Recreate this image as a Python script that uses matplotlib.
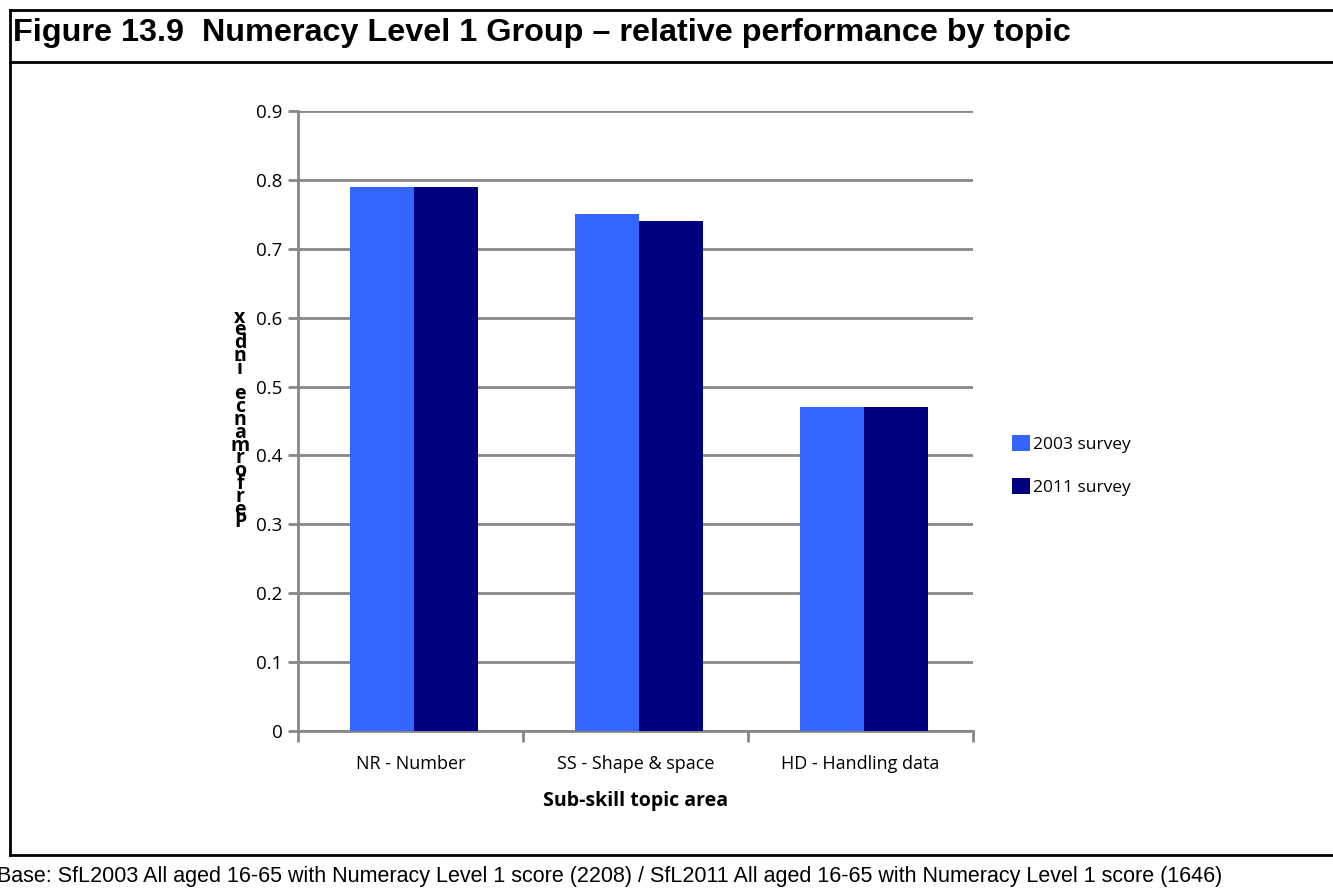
import matplotlib.pyplot as plt
import numpy as np
from matplotlib.lines import Line2D

# Sub-skill topic areas and relative performance for each survey year
topics = ['NR - Number', 'SS - Shape & space', 'HD - Handling data']
perf_2003 = [0.79, 0.75, 0.47]
perf_2011 = [0.79, 0.74, 0.47]
series_names = ['2003 survey', '2011 survey']
series_colors = ['#3366FF', '#000080']
yticks = [0, 0.1, 0.2, 0.3, 0.4, 0.5, 0.6, 0.7, 0.8, 0.9]

W, H = 1333, 888
fig = plt.figure(figsize=(W / 100, H / 100), dpi=100)

# outer frame of the figure panel (pixel coords -> figure fraction)
def fx(px):
    return px / W

def fy(py):
    return 1 - py / H

frame_kw = dict(color='black', linewidth=2, transform=fig.transFigure)
fig.add_artist(Line2D([fx(10), fx(1333)], [fy(10), fy(10)], **frame_kw))
fig.add_artist(Line2D([fx(10), fx(1333)], [fy(62), fy(62)], **frame_kw))
fig.add_artist(Line2D([fx(10), fx(1333)], [fy(855), fy(855)], **frame_kw))
fig.add_artist(Line2D([fx(10), fx(10)], [fy(10), fy(855)], **frame_kw))

fig.text(fx(13), fy(33), 'Figure 13.9  Numeracy Level 1 Group \u2013 relative performance by topic',
         fontsize=23.3, fontweight='bold', family='Liberation Sans', va='center', ha='left')
fig.text(fx(-3), fy(876), 'Base: SfL2003 All aged 16-65 with Numeracy Level 1 score (2208) / '
         'SfL2011 All aged 16-65 with Numeracy Level 1 score (1646)',
         fontsize=15.5, family='Liberation Sans', va='center', ha='left')

# plot area
ax = fig.add_axes([fx(298), fy(731), fx(973) - fx(298), fy(111) - fy(731)])
x = np.arange(len(topics))
bw = 0.285
shift = 0.015
ax.bar(x - bw / 2 + shift, perf_2003, width=bw, color=series_colors[0], label=series_names[0], zorder=3)
ax.bar(x + bw / 2 + shift, perf_2011, width=bw, color=series_colors[1], label=series_names[1], zorder=3)

ax.set_xlim(-0.5, len(topics) - 0.5)
ax.set_ylim(0, 0.9)
ax.set_yticks(yticks)
ax.set_yticklabels(['0'] + ['%.1f' % v for v in yticks[1:]])
ax.set_xticks(x)
ax.set_xticklabels(topics)
ax.set_xticks(np.arange(len(topics) + 1) - 0.5, minor=True)

grey = '#878787'
ax.grid(axis='y', color=grey, linewidth=2, zorder=0)
for side in ['top', 'right']:
    ax.spines[side].set_visible(False)
for side in ['left', 'bottom']:
    ax.spines[side].set_color(grey)
    ax.spines[side].set_linewidth(2)
ax.tick_params(axis='y', colors=grey, length=7, width=2, labelcolor='black', labelsize=13.5, pad=4)
ax.tick_params(axis='x', which='major', length=0, labelsize=13, pad=17)
ax.tick_params(axis='x', which='minor', length=8, width=2, color=grey)
for lab in ax.get_xticklabels() + ax.get_yticklabels():
    lab.set_family('Open Sans')

ax.set_xlabel('Sub-skill topic area', fontsize=14, fontweight='bold', family='Open Sans', labelpad=13)

# stacked letters of the axis title, bottom to top
ylab = '\n'.join(reversed('Performance index'))
fig.text(fx(240), fy(420), ylab, fontsize=14, fontweight='bold', family='Open Sans',
         ha='center', va='center', linespacing=0.52)

ax.legend(loc='center left', bbox_to_anchor=(1.035, 0.428), frameon=False,
          handlelength=1.0, handleheight=1.0, handletextpad=0.2, labelspacing=1.45,
          prop={'family': 'Open Sans', 'size': 12.5})

fig.savefig('out.png', dpi=100)
